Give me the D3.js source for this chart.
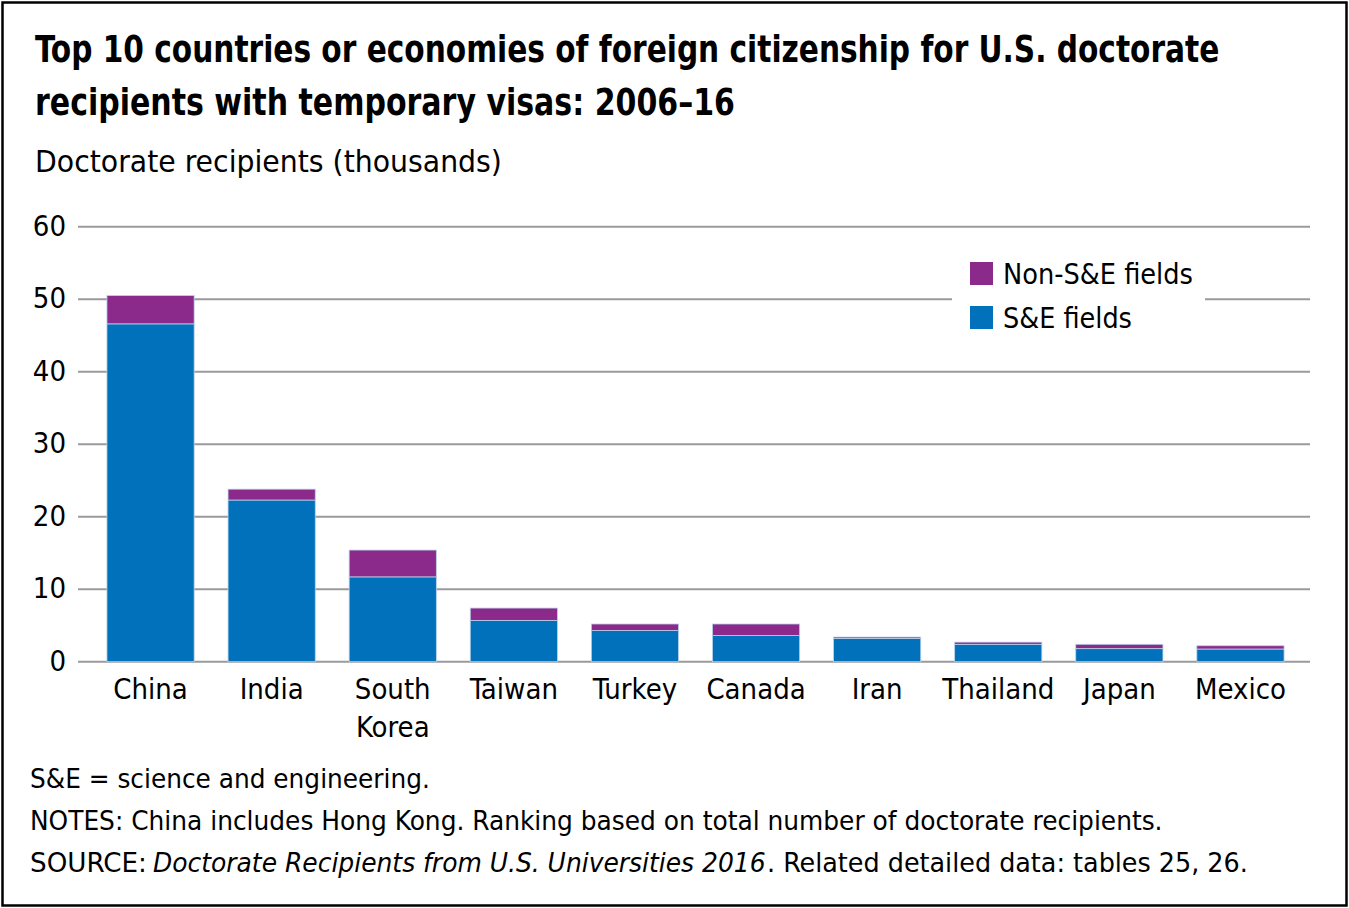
<!DOCTYPE html>
<html><head><meta charset="utf-8">
<script src="https://cdn.jsdelivr.net/npm/d3@7"></script>
<style>
body{margin:0;background:#fff;}
svg text{font-family:"Liberation Sans Narrow","DejaVu Sans Condensed",sans-serif;fill:#000;}
</style></head><body>
<svg id="c" width="1349" height="908"></svg>
<script>
const categories = ["China","India","South Korea","Taiwan","Turkey","Canada","Iran","Thailand","Japan","Mexico"];
const seFields = [46.6,22.3,11.7,5.7,4.3,3.6,3.2,2.4,1.8,1.75];
const nonSeFields = [3.9,1.5,3.7,1.7,0.9,1.6,0.2,0.3,0.6,0.45];
const yTicks = [0,10,20,30,40,50,60];
const seriesNames = ["Non-S&E fields","S&E fields"];
const colors = {"S&E fields":"#0071BA","Non-S&E fields":"#8B2A8B"};

const svg = d3.select("#c");
svg.append("rect").attr("x",2.5).attr("y",2.5).attr("width",1344).attr("height",903)
  .attr("fill","#fff").attr("stroke","#000").attr("stroke-width",2.5);

// place text at (x,y) and scale horizontally to a target width
function fitText(parent, x0, y0, len, txt, attrs){
  const t = parent.append("text").attr("x",0).attr("y",0).text(txt);
  Object.entries(attrs||{}).forEach(([k,v])=>t.attr(k,v));
  const w = t.node().getComputedTextLength();
  t.attr("transform",`translate(${x0},${y0}) scale(${len/w},1)`);
  return t;
}

fitText(svg,35,62,1185,"Top 10 countries or economies of foreign citizenship for U.S. doctorate",{"font-size":38,"font-weight":"bold"});
fitText(svg,35,115,700,"recipients with temporary visas: 2006–16",{"font-size":38,"font-weight":"bold"});
fitText(svg,35,172,467,"Doctorate recipients (thousands)",{"font-size":30});

const x = d3.scaleBand().domain(categories).range([90,1301]).paddingInner(0.28).paddingOuter(0.14);
const y = d3.scaleLinear().domain([0,60]).range([661.7,226.7]);

const grid = svg.append("g");
grid.selectAll("line").data(yTicks).join("line")
  .attr("x1",78).attr("x2",1310).attr("y1",d=>y(d)).attr("y2",d=>y(d))
  .attr("stroke","#9a9a9c").attr("stroke-width",2);
svg.append("g").selectAll("text").data(yTicks).join("text")
  .attr("x",66).attr("y",d=>y(d)+9).attr("text-anchor","end").attr("font-size",29).text(d=>d);

const data = categories.map((c,i)=>({cat:c,"S&E fields":seFields[i],"Non-S&E fields":nonSeFields[i]}));
const stack = d3.stack().keys(["S&E fields","Non-S&E fields"])(data);
svg.append("g").selectAll("g").data(stack).join("g").attr("fill",d=>colors[d.key])
  .selectAll("rect").data(d=>d).join("rect")
  .attr("x",d=>x(d.data.cat)).attr("width",x.bandwidth())
  .attr("y",d=>y(d[1])).attr("height",d=>y(d[0])-y(d[1]))
  .attr("stroke","#b9d3ea").attr("stroke-width",0.8);

const xl = svg.append("g");
categories.forEach(c=>{
  const t = xl.append("text").attr("text-anchor","middle").attr("font-size",29);
  const parts = c==="South Korea" ? ["South","Korea"] : [c];
  parts.forEach((p,j)=>t.append("tspan").attr("x",x(c)+x.bandwidth()/2).attr("y",699+j*38).text(p));
});

// legend
const lg = svg.append("g");
lg.append("rect").attr("x",952).attr("y",250).attr("width",253).attr("height",90).attr("fill","#fff");
const legendLens = [190,129];
seriesNames.forEach((s,i)=>{
  lg.append("rect").attr("x",970).attr("y",262+i*44).attr("width",23).attr("height",23).attr("fill",colors[s]);
  fitText(lg,1003,284+i*44,legendLens[i],s,{"font-size":29});
});

const fn = svg.append("g");
fitText(fn,30,788,400,"S&E = science and engineering.",{"font-size":27});
fitText(fn,30,830,1133,"NOTES: China includes Hong Kong. Ranking based on total number of doctorate recipients.",{"font-size":27});
fitText(fn,30,872,117,"SOURCE:",{"font-size":27});
fitText(fn,153,872,613,"Doctorate Recipients from U.S. Universities 2016",{"font-size":27,"font-style":"italic"});
fitText(fn,767,872,481,". Related detailed data: tables 25, 26.",{"font-size":27});
</script></body></html>
